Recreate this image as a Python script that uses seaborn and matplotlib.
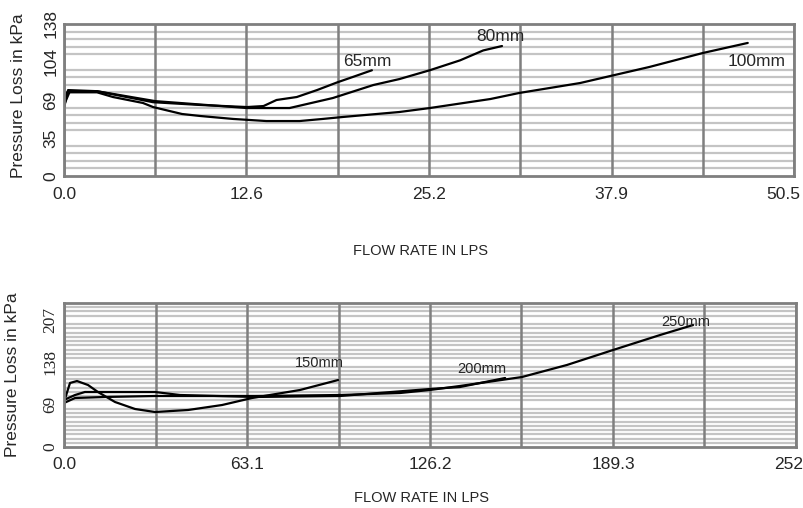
import numpy as np
import pandas as pd
import matplotlib
matplotlib.use("Agg")
import matplotlib.pyplot as plt
import matplotlib.transforms as mtransforms
import seaborn as sns

# ---------------- data: top chart ----------------
top_xticks = [0.0, 12.625, 25.25, 37.875, 50.5]
top_xticklabels = ["0.0", "12.6", "25.2", "37.9", "50.5"]
top_yticks = [0, 34.5, 69, 103.5, 138]
top_yticklabels = ["0", "35", "69", "104", "138"]

x65 = [0, 0.28, 2.28, 6.16, 9.4, 12.66, 13.8, 14.7, 16.1, 17.5, 18.9, 20.0, 21.3]
y65 = [61.7, 78, 77, 67, 64.5, 62.6, 63.5, 69, 71.7, 78, 85, 90, 96]

x80 = [0, 0.41, 2.28, 6.3, 12.66, 15.6, 18.6, 21.4, 23.2, 25.3, 27.4, 29.0, 30.3]
y80 = [64.5, 77, 77, 68, 61.7, 61.7, 70.8, 82.6, 88, 96, 105, 114, 118]

x100 = [0, 0.21, 2.28, 3.39, 5.46, 6.16, 8.16, 9.41, 11.7, 14.0, 16.3, 17.9, 19.3,
        23.2, 25.3, 29.5, 31.5, 33.6, 35.7, 37.8, 40.5, 44.2, 47.3]
y100 = [64.5, 76, 76, 71.7, 66.3, 62.6, 56.3, 54.5, 51.8, 49.9, 49.9, 51.8, 53.6,
        58.1, 61.7, 69.9, 75.4, 79.9, 84.4, 90.8, 99.0, 111.7, 120.8]

top_names = ["65mm", "80mm", "100mm"]
top_label_x = [21.0, 30.2, 47.9]
top_label_y = [104, 127, 103.5]

# ---------------- data: bottom chart ----------------
bot_xticks = [0.0, 63.1, 126.2, 189.3, 252.4]
bot_xticklabels = ["0.0", "63.1", "126.2", "189.3", "252.4"]
bot_yticks = [0, 69, 138, 207]
bot_yticklabels = ["0", "69", "138", "207"]

x150 = [0, 2.07, 4.48, 8.28, 11.7, 17.6, 24.5, 31.4, 42.8, 54.5, 64.8, 71.0, 81.4, 94.5]
y150 = [73.3, 104.3, 107.5, 101, 89.6, 73.3, 61.9, 57.0, 60.3, 68.4, 79.8, 84.7, 92.9, 109.1]

x200 = [0, 3.8, 7.2, 19.3, 31.4, 40.0, 65.9, 95.2, 126.2, 136.5, 152.1]
y200 = [76.6, 84.7, 89.6, 89.6, 89.6, 84.7, 81.5, 83.1, 94.5, 97.7, 112.4]

x250 = [0, 3.8, 14.1, 31.4, 65.9, 95.2, 115.9, 126.2, 136.5, 157.9, 173.4, 189.3, 205.5, 216.9]
y250 = [71.7, 79.8, 81.5, 83.1, 83.1, 84.7, 88, 92.9, 99.4, 114, 133.6, 158, 182.4, 198.7]

bot_names = ["150mm", "200mm", "250mm"]
bot_label_x = [88, 144, 214.5]
bot_label_y = [137, 127, 204]

x_title = "FLOW RATE IN LPS"
y_title = "Pressure Loss in kPa"

# ---------------- build frames ----------------
def long_df(xs, ys, names):
    parts = []
    for x, y, n in zip(xs, ys, names):
        parts.append(pd.DataFrame({"flow": x, "loss": y, "size": n}))
    return pd.concat(parts, ignore_index=True)

df_top = long_df([x65, x80, x100], [y65, y80, y100], top_names)
df_bot = long_df([x150, x200, x250], [y150, y200, y250], bot_names)

sns.set_style("white")
plt.rcParams["font.family"] = ["Liberation Sans", "DejaVu Sans"]

fig = plt.figure(figsize=(8.04, 5.08), dpi=100)
ax1 = fig.add_axes([64 / 804, 1 - 176 / 508, 730 / 804, 152 / 508])
ax2 = fig.add_axes([64 / 804, 1 - 447 / 508, 732 / 804, 144 / 508])

GRID_DARK = "#7f7f7f"
GRID_LIGHT = "#c4c4c4"


def style_axes(ax, xmax, ymax, xticks, xlabels, yticks, ylabels, nx, ny, yfont, xlab_y, xpad):
    ax.set_xlim(0, xmax)
    ax.set_ylim(0, ymax)
    ax.set_axisbelow(True)
    ax.yaxis.set_zorder(0.5)
    ax.xaxis.set_zorder(0.7)
    ax.set_xticks(xticks)
    ax.set_xticklabels(xlabels)
    ax.set_xticks(np.linspace(0, xmax, nx + 1), minor=True)
    ax.set_yticks(yticks)
    ax.set_yticklabels(ylabels, rotation=90, va="center", family=yfont)
    ax.set_yticks(np.linspace(0, ymax, ny + 1), minor=True)
    ax.grid(False)
    ax.grid(True, axis="x", which="both", color=GRID_DARK, linewidth=1.8)
    ax.grid(True, axis="y", which="minor", color=GRID_LIGHT, linewidth=1.6)
    ax.tick_params(axis="both", which="both", length=0)
    ax.tick_params(axis="x", labelsize=12.5, pad=xpad)
    ax.tick_params(axis="y", labelsize=12.5, pad=4)
    for s in ax.spines.values():
        s.set_visible(True)
        s.set_color(GRID_DARK)
        s.set_linewidth(2)
        s.set_zorder(3)
    ax.set_xlabel(x_title, family=["Liberation Sans Narrow", "Liberation Sans"], fontsize=10.5)
    ax.xaxis.set_label_coords(0.488, xlab_y)
    ax.set_ylabel(y_title, fontsize=12.5)


for ax, df in [(ax1, df_top), (ax2, df_bot)]:
    sns.lineplot(data=df, x="flow", y="loss", hue="size", units="size",
                 estimator=None, sort=False, palette=["black"] * 3,
                 linewidth=1.6, legend=False, ax=ax)

style_axes(ax1, 50.5, 138, top_xticks, top_xticklabels, top_yticks, top_yticklabels,
           8, 20, ["Liberation Sans", "DejaVu Sans"], -0.447, 8)
style_axes(ax2, 252.4, 234.6, bot_xticks, bot_xticklabels, bot_yticks, bot_yticklabels,
           8, 34, ["Liberation Serif", "DejaVu Serif"], -0.306, 7)

ax1.yaxis.set_label_coords(-0.052, 0.53)
ax2.yaxis.set_label_coords(-0.06, 0.5)

# last top tick label shifted left so it stays inside
lbl = ax1.get_xticklabels()[-1]
lbl.set_transform(lbl.get_transform() + mtransforms.ScaledTranslation(-0.11, 0, fig.dpi_scale_trans))

for n, lx, ly in zip(top_names, top_label_x, top_label_y):
    ax1.text(lx, ly, n, ha="center", va="center", fontsize=12.5)
for n, lx, ly in zip(bot_names, bot_label_x, bot_label_y):
    ax2.text(lx, ly, n, ha="center", va="center", fontsize=10.5,
             family=["Liberation Sans Narrow", "Liberation Sans"])

fig.savefig("out.png", dpi=100)
